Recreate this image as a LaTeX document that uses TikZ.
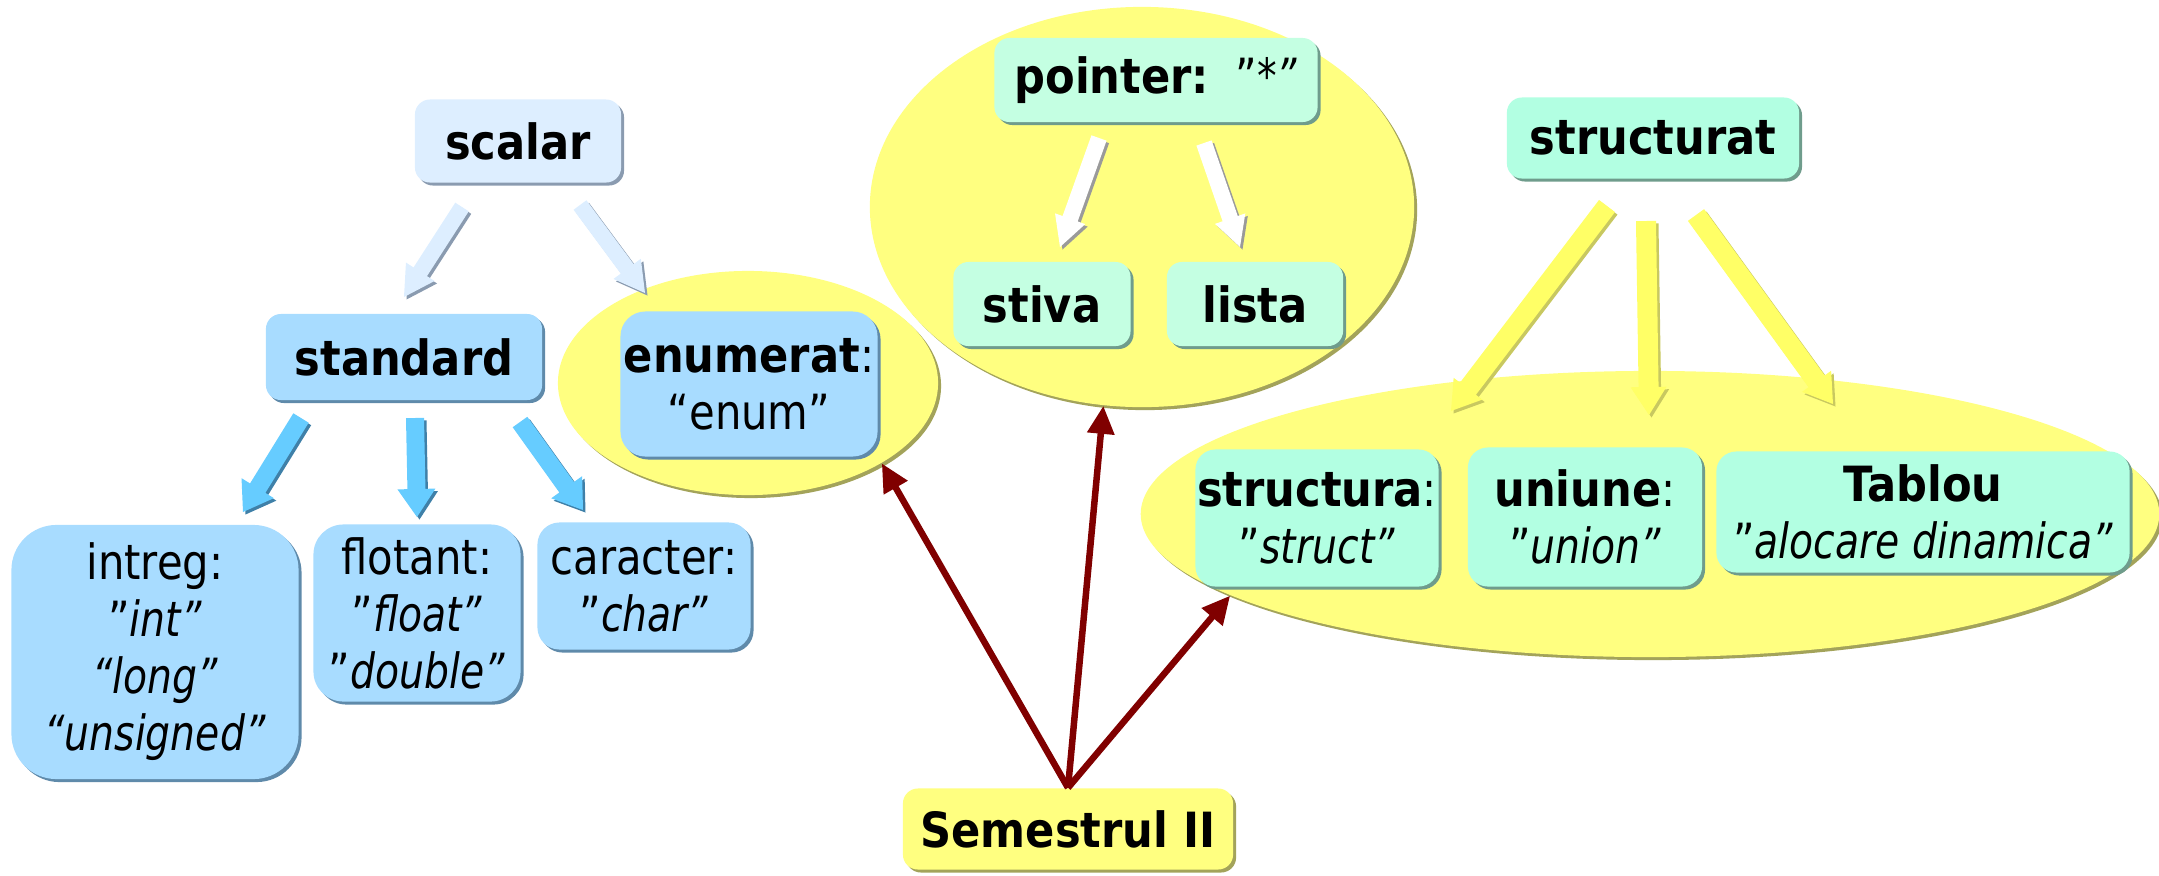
\documentclass[tikz,border=0pt]{standalone}
\usepackage{fontspec}
\setmainfont[FakeStretch=0.86, BoldFeatures={FakeStretch=0.89}, ItalicFeatures={FakeStretch=0.81}]{DejaVu Sans}
\usetikzlibrary{calc,shapes.geometric,shadows,arrows.meta}
\definecolor{lblue}{HTML}{DDEEFF}
\definecolor{lblueS}{HTML}{8A9BB0}
\definecolor{sky}{HTML}{A8DCFF}
\definecolor{skyS}{HTML}{5F8AAA}
\definecolor{mint}{HTML}{C4FFE2}
\definecolor{mintB}{HTML}{B2FFE2}
\definecolor{mintS}{HTML}{6F9C8C}
\definecolor{yel}{HTML}{FFFF80}
\definecolor{yelS}{HTML}{A3A35A}
\definecolor{darkred}{HTML}{800000}
\definecolor{arrB}{HTML}{66CCFF}
\definecolor{arrBS}{HTML}{3F80A8}
\definecolor{arrY}{HTML}{FFFF66}
\definecolor{arrYS}{HTML}{C8C860}
\definecolor{arrW}{HTML}{FFFFFF}
\definecolor{arrWS}{HTML}{9A9A9A}
\newcommand\blockarr[7]{%
 \fill[#4, transform canvas={shift={(0.025cm,-0.025cm)}}] let \p1=($(#2)-(#1)$), \n1={atan2(\y1,\x1)} in
  ($(#1)+(\n1+90:#5)$) -- ($(#2)+(\n1+180:#7)+(\n1+90:#5)$) -- ($(#2)+(\n1+180:#7)+(\n1+90:#6)$) -- (#2)
  -- ($(#2)+(\n1+180:#7)+(\n1-90:#6)$) -- ($(#2)+(\n1+180:#7)+(\n1-90:#5)$) -- ($(#1)+(\n1-90:#5)$) -- cycle;
 \fill[#3] let \p1=($(#2)-(#1)$), \n1={atan2(\y1,\x1)} in
  ($(#1)+(\n1+90:#5)$) -- ($(#2)+(\n1+180:#7)+(\n1+90:#5)$) -- ($(#2)+(\n1+180:#7)+(\n1+90:#6)$) -- (#2)
  -- ($(#2)+(\n1+180:#7)+(\n1-90:#6)$) -- ($(#2)+(\n1+180:#7)+(\n1-90:#5)$) -- ($(#1)+(\n1-90:#5)$) -- cycle;
}
\tikzset{
 every node/.style={font=\fontsize{13.8}{16.2}\selectfont},
 boxbase/.style={rectangle, rounded corners=0.15cm, inner sep=0pt, align=center},
 lbox/.style={boxbase, fill=lblue, general shadow={fill=lblueS, shadow xshift=0.03cm, shadow yshift=-0.03cm}},
 bbox/.style={boxbase, fill=sky, general shadow={fill=skyS, shadow xshift=0.03cm, shadow yshift=-0.03cm}},
 gbox/.style={boxbase, fill=mint, general shadow={fill=mintS, shadow xshift=0.03cm, shadow yshift=-0.03cm}},
 hbox/.style={boxbase, fill=mintB, general shadow={fill=mintS, shadow xshift=0.03cm, shadow yshift=-0.03cm}},
 ybox/.style={boxbase, fill=yel, general shadow={fill=yelS, shadow xshift=0.03cm, shadow yshift=-0.03cm}},
 ell/.style={ellipse, inner sep=0pt, fill=yel, general shadow={fill=yelS, shadow xshift=0.03cm, shadow yshift=-0.03cm}},
 redarr/.style={draw=darkred, line width=0.065cm, -{Triangle[length=0.28cm,width=0.26cm]}}
}
\begin{document}
\begin{tikzpicture}[x=0.01cm,y=-0.01cm]
\useasboundingbox (0,0) rectangle (2159,875);
% ellipses
\node[ell, minimum width=3.80cm, minimum height=2.24cm] (e1) at (748,383) {};
\node[ell, minimum width=5.44cm, minimum height=4.00cm] (e2) at (1142,207) {};
\node[ell, minimum width=10.18cm, minimum height=2.86cm] (e3) at (1650,514) {};
% arrow coordinates
\coordinate (a1s) at (462,207); \coordinate (a1e) at (404,297);
\coordinate (a2s) at (580,205); \coordinate (a2e) at (645,293);
\coordinate (b1s) at (301,418); \coordinate (b1e) at (243,512);
\coordinate (b2s) at (415,418); \coordinate (b2e) at (417,517);
\coordinate (b3s) at (520,422); \coordinate (b3e) at (583,510);
\coordinate (c1s) at (1099,138); \coordinate (c1e) at (1060,247);
\coordinate (c2s) at (1204,143); \coordinate (c2e) at (1240,247);
\coordinate (d1s) at (1607,206); \coordinate (d1e) at (1451,411);
\coordinate (d2s) at (1646,221); \coordinate (d2e) at (1649,415);
\coordinate (d3s) at (1696,215); \coordinate (d3e) at (1833,404);
\blockarr{a1s}{a1e}{lblue}{lblueS}{0.08cm}{0.17cm}{0.30cm}
\blockarr{a2s}{a2e}{lblue}{lblueS}{0.08cm}{0.17cm}{0.30cm}
\blockarr{b1s}{b1e}{arrB}{arrBS}{0.09cm}{0.19cm}{0.28cm}
\blockarr{b2s}{b2e}{arrB}{arrBS}{0.09cm}{0.19cm}{0.28cm}
\blockarr{b3s}{b3e}{arrB}{arrBS}{0.09cm}{0.19cm}{0.28cm}
\blockarr{c1s}{c1e}{arrW}{arrWS}{0.08cm}{0.16cm}{0.30cm}
\blockarr{c2s}{c2e}{arrW}{arrWS}{0.08cm}{0.16cm}{0.30cm}
\blockarr{d1s}{d1e}{arrY}{arrYS}{0.10cm}{0.18cm}{0.28cm}
\blockarr{d2s}{d2e}{arrY}{arrYS}{0.10cm}{0.18cm}{0.28cm}
\blockarr{d3s}{d3e}{arrY}{arrYS}{0.10cm}{0.18cm}{0.28cm}
% boxes
\node[lbox, minimum width=2.06cm, minimum height=0.83cm] (scalar) at (518,141) {\textbf{scalar}};
\node[bbox, minimum width=2.76cm, minimum height=0.86cm] (standard) at (404,357) {\textbf{standard}};
\node[bbox, rounded corners=0.25cm, minimum width=2.57cm, minimum height=1.45cm] (enumerat) at (749,384) {\textbf{enumerat}:\\“enum”};
\node[bbox, rounded corners=0.45cm, minimum width=2.87cm, minimum height=2.54cm] (intreg) at (155,652) {intreg:\\"\textit{int”}\\\textit{“long”}\\\textit{“unsigned”}};
\node[bbox, rounded corners=0.3cm, minimum width=2.07cm, minimum height=1.77cm] (flotant) at (417,613) {flotant:\\"\textit{float”}\\"\textit{double”}};
\node[bbox, rounded corners=0.22cm, minimum width=2.13cm, minimum height=1.27cm] (caracter) at (644,586) {caracter:\\"\textit{char”}};
\node[gbox, minimum width=3.23cm, minimum height=0.84cm] (pointer) at (1156,80) {\textbf{pointer:}\ \ "\textit{*”}};
\node[gbox, minimum width=1.77cm, minimum height=0.84cm] (stiva) at (1042,304) {\textbf{stiva}};
\node[gbox, minimum width=1.76cm, minimum height=0.84cm] (lista) at (1255,304) {\textbf{lista}};
\node[hbox, minimum width=2.92cm, minimum height=0.81cm] (structurat) at (1653,138) {\textbf{structurat}};
\node[hbox, rounded corners=0.2cm, minimum width=2.43cm, minimum height=1.37cm] (structura) at (1317,518) {\textbf{structura}:\\"\textit{struct”}};
\node[hbox, rounded corners=0.2cm, minimum width=2.34cm, minimum height=1.39cm] (uniune) at (1585,517) {\textbf{uniune}:\\"\textit{union”}};
\node[hbox, rounded corners=0.2cm, minimum width=4.13cm, minimum height=1.21cm] (tablou) at (1923,512) {\textbf{Tablou}\\"\textit{alocare dinamica”}};
\node[ybox, minimum width=3.30cm, minimum height=0.81cm] (sem) at (1068,829) {\textbf{Semestrul II}};
% red arrows
\draw[redarr] (sem.north) -- (e1.-31);
\draw[redarr] (sem.north) -- (e2.-101);
\draw[redarr] (sem.north) -- (e3.-169);
\end{tikzpicture}
\end{document}
